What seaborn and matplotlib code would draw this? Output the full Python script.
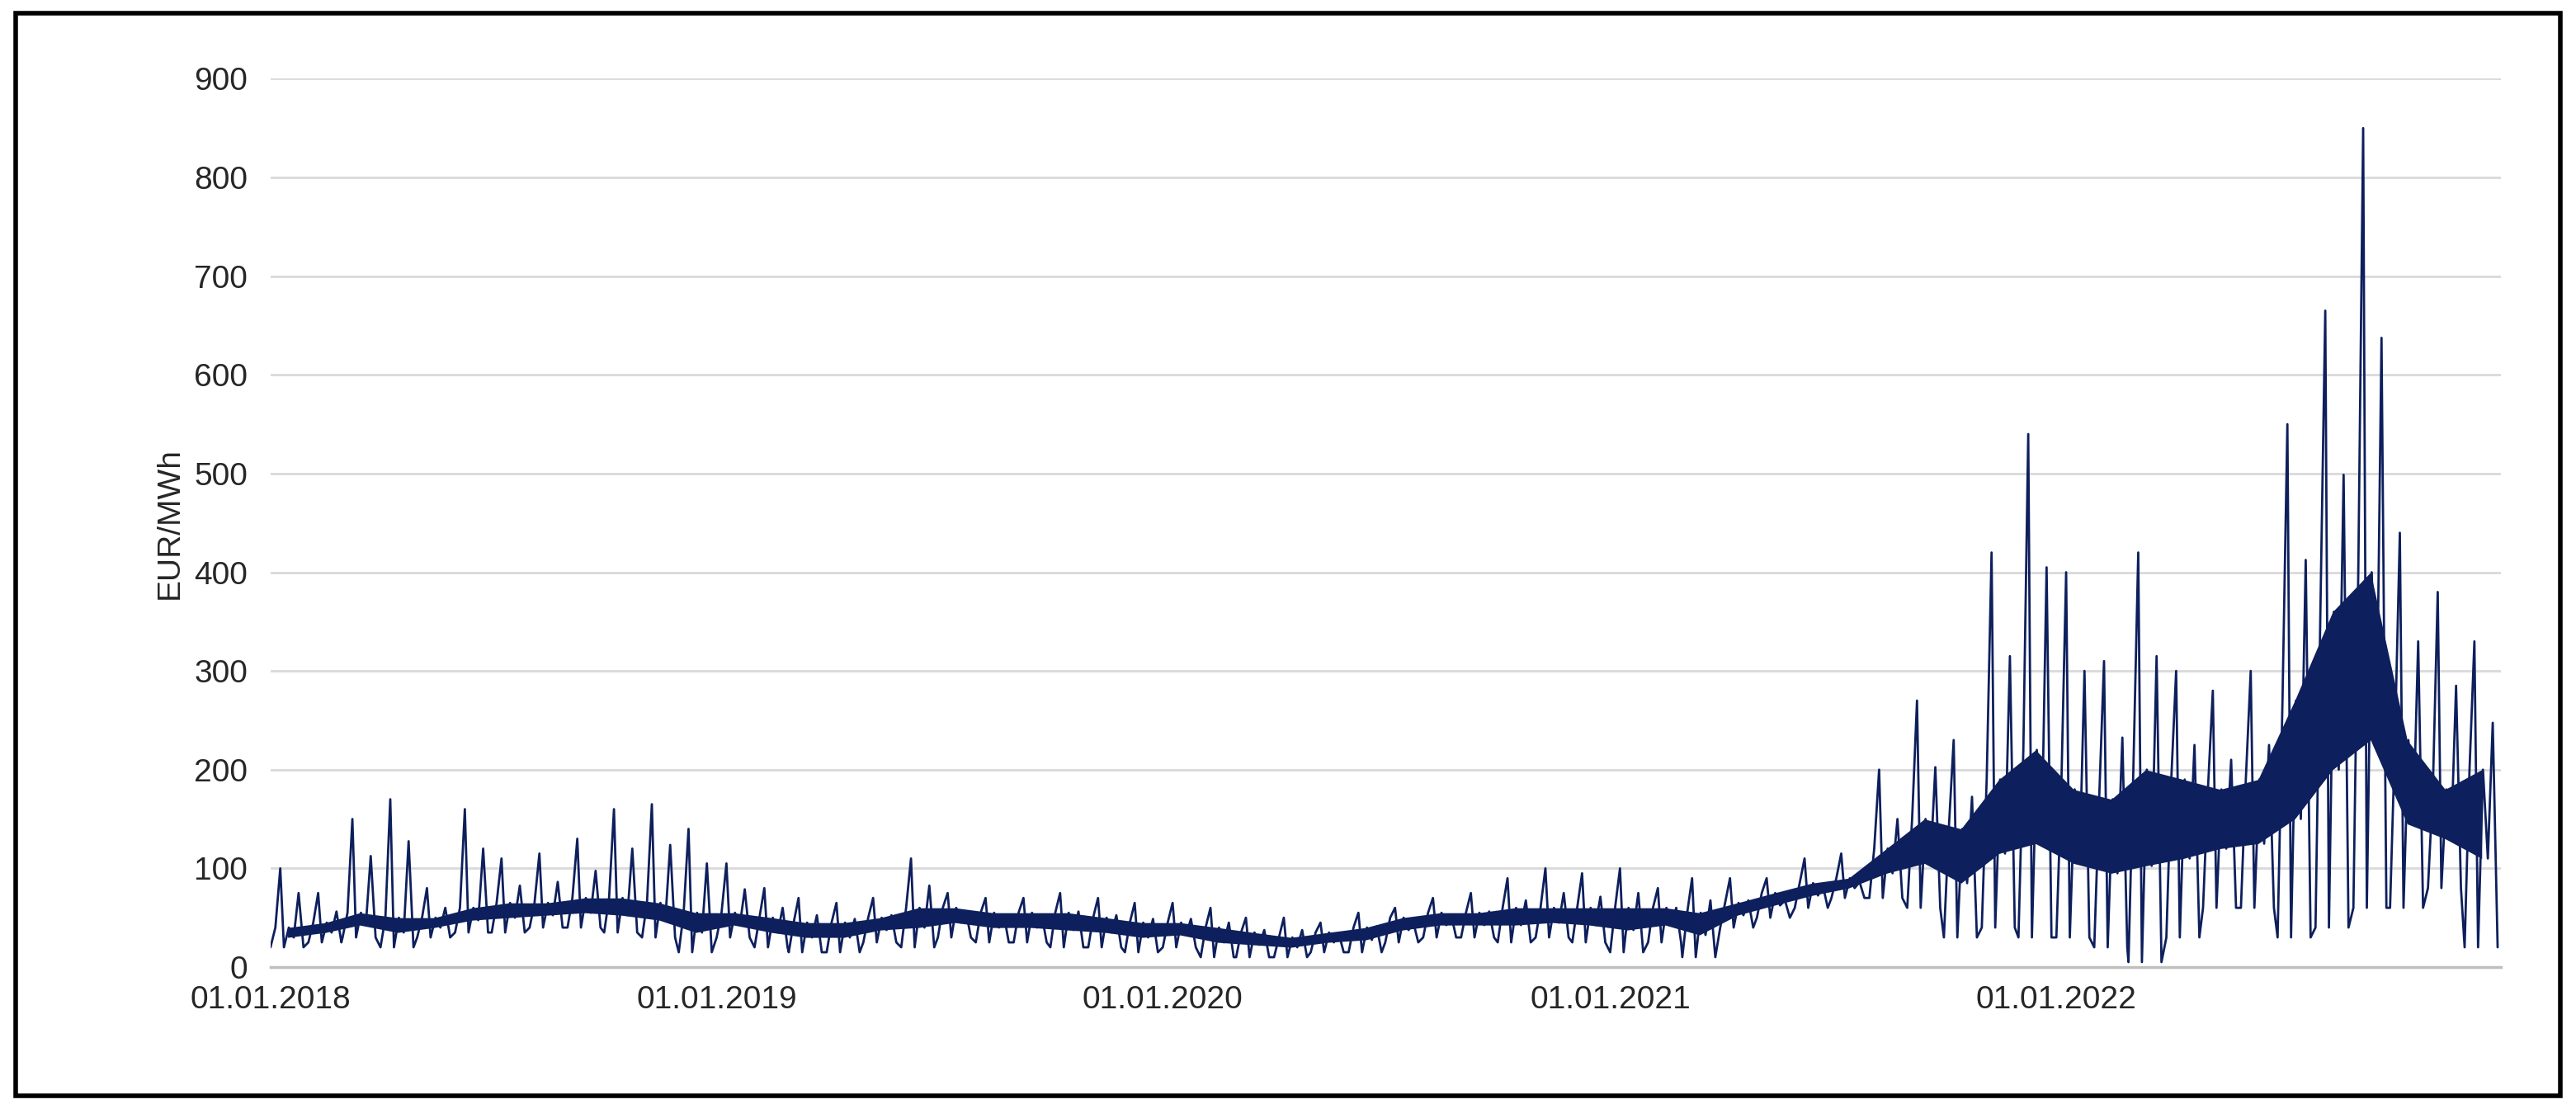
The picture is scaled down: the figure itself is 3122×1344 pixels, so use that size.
import numpy as np
import pandas as pd
import matplotlib
matplotlib.use("Agg")
import matplotlib.pyplot as plt
import seaborn as sns
from matplotlib.patches import Rectangle

# ─── DATA (monthly high / low / typical, EUR/MWh) ──────────────────────────
months = pd.date_range("2018-01-01", "2022-12-01", freq="MS")
high = [100, 75, 150, 170, 80, 160, 110, 115, 130, 160, 165, 140,
        105, 80, 70, 65, 70, 110, 75, 70, 70, 75, 70, 65,
        65, 60, 50, 50, 45, 55, 60, 70, 75, 90, 100, 95,
        100, 80, 90, 90, 90, 110, 115, 200, 270, 230, 420, 540,
        400, 310, 420, 300, 280, 300, 550, 665, 850, 440, 380, 330]
low = [20, 25, 30, 20, 30, 35, 35, 40, 40, 35, 30, 15,
       30, 20, 15, 15, 25, 20, 30, 25, 25, 20, 20, 15,
       20, 10, 10, 10, 15, 15, 25, 30, 30, 25, 30, 25,
       15, 25, 10, 40, 50, 60, 70, 70, 60, 30, 40, 30,
       30, 20, 5, 30, 60, 60, 30, 40, 60, 60, 80, 20]
typical = [40, 45, 55, 50, 50, 60, 65, 65, 70, 70, 65, 55,
           55, 50, 45, 45, 50, 60, 60, 55, 55, 55, 50, 45,
           45, 40, 35, 30, 35, 40, 50, 55, 55, 60, 60, 60,
           60, 60, 55, 65, 75, 85, 90, 120, 150, 140, 190, 220,
           180, 170, 200, 190, 180, 190, 270, 360, 400, 230, 180, 200]
y_ticks = list(range(0, 1000, 100))
x_ticks = pd.to_datetime(["2018-01-01", "2019-01-01", "2020-01-01",
                          "2021-01-01", "2022-01-01"])

# zigzag series through low / high / typical within each month
rows = []
for m, h, l, t in zip(months, high, low, typical):
    rows += [(m, l), (m + pd.Timedelta(days=4), t), (m + pd.Timedelta(days=8), h),
             (m + pd.Timedelta(days=11), l), (m + pd.Timedelta(days=15), t),
             (m + pd.Timedelta(days=19), (l + t) / 2), (m + pd.Timedelta(days=23), h * 0.75),
             (m + pd.Timedelta(days=27), l)]
df = pd.DataFrame(rows, columns=["date", "price"])

sns.set_theme(style="white")
plt.rcParams["font.family"] = ["Liberation Sans", "DejaVu Sans"]

fig = plt.figure(figsize=(15.61, 6.72), dpi=200)
ax = fig.add_axes([0.105, 0.128, 0.866, 0.801])
color = "#0d1f5c"

env_x = months + pd.Timedelta(days=14)
core_low = [(l + t) / 2 for l, t in zip(low, typical)]
ax.fill_between(env_x, core_low, typical, color=color, lw=0)
sns.lineplot(data=df, x="date", y="price", ax=ax, color=color, lw=1.0)

ax.set_xlim(pd.Timestamp("2018-01-01"), pd.Timestamp("2022-12-31"))
ax.set_ylim(0, 900)
ax.set_yticks(y_ticks)
ax.set_xticks(x_ticks)
ax.set_xticklabels([d.strftime("%d.%m.%Y") for d in x_ticks])
ax.tick_params(axis="y", labelsize=14, length=0, pad=10)
ax.tick_params(axis="x", labelsize=14, length=0, pad=8)
ax.set_xlabel("")
ax.set_ylabel("EUR/MWh", fontsize=14)
ax.grid(axis="y", color="#d9d9d9", lw=1)
for s in ["top", "right", "left"]:
    ax.spines[s].set_visible(False)
ax.spines["bottom"].set_color("#bfbfbf")

fig.patches.append(Rectangle((0.006, 0.012), 0.988, 0.976, transform=fig.transFigure,
                             fill=False, ec="black", lw=2))
fig.savefig("out.png", dpi=200)
